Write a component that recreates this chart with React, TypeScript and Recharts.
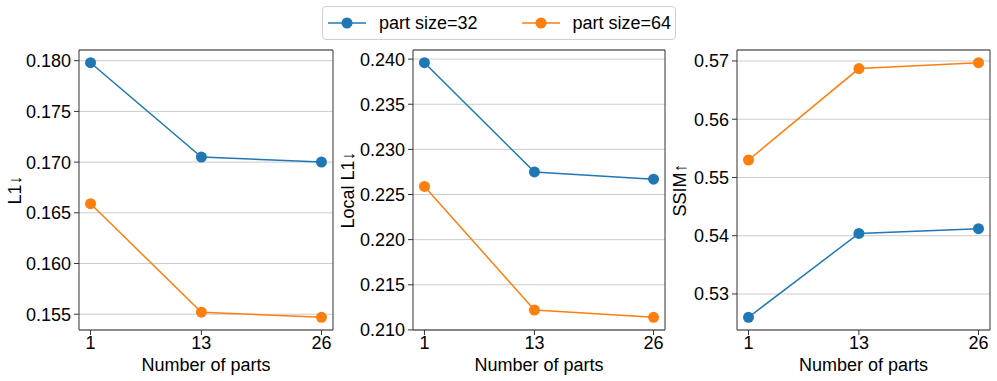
import React from 'react'
import {
  LineChart,
  Line,
  CartesianGrid,
  XAxis,
  YAxis,
  ReferenceArea,
} from 'recharts'

const FONT = '"Liberation Sans", Arial, Helvetica, sans-serif'
const BLUE = '#1f77b4'
const ORANGE = '#ff7f0e'

// Number of parts on the x axis
const parts = [1, 13, 26]
const xTicks = [1, 13, 26]

// L1 (lower is better)
const l1Size32 = [0.1798, 0.1705, 0.17]
const l1Size64 = [0.1659, 0.1552, 0.1547]
const l1Ticks = [0.155, 0.16, 0.165, 0.17, 0.175, 0.18]

// Local L1 (lower is better)
const localL1Size32 = [0.2396, 0.2275, 0.2267]
const localL1Size64 = [0.2259, 0.2122, 0.2114]
const localL1Ticks = [0.21, 0.215, 0.22, 0.225, 0.23, 0.235, 0.24]

// SSIM (higher is better)
const ssimSize32 = [0.526, 0.5404, 0.5412]
const ssimSize64 = [0.553, 0.5687, 0.5697]
const ssimTicks = [0.53, 0.54, 0.55, 0.56, 0.57]

// matplotlib style 5% padding around the data
function padded(values: number[]): [number, number] {
  const lo = Math.min(...values)
  const hi = Math.max(...values)
  const m = (hi - lo) * 0.05
  return [lo - m, hi + m]
}

const xDomain = padded(parts)

interface PanelProps {
  left: number
  width: number
  axisWidth: number
  label: string
  labelX: number
  s32: number[]
  s64: number[]
  ticks: number[]
  digits: number
}

function Panel({ left, width, axisWidth, label, labelX, s32, s64, ticks, digits }: PanelProps) {
  const rows = parts.map((p, i) => ({ parts: p, s32: s32[i], s64: s64[i] }))
  const yDomain = padded([...s32, ...s64])

  return (
    <div style={{ position: 'absolute', left, top: 0 }}>
      <LineChart
        width={width}
        height={381}
        data={rows}
        margin={{ top: 50, right: 7, bottom: 1, left: 0 }}
        style={{ overflow: 'visible' }}
      >
        <CartesianGrid vertical={false} stroke="#cccccc" strokeWidth={1} />
        <XAxis
          dataKey="parts"
          type="number"
          domain={xDomain}
          ticks={xTicks}
          allowDataOverflow
          height={50}
          axisLine={false}
          tickLine={{ stroke: '#333' }}
          tickSize={5}
          tickMargin={1}
          tick={{ fill: '#000', fontSize: 18, fontFamily: FONT }}
          label={{
            value: 'Number of parts',
            position: 'insideBottom',
            offset: 9,
            fill: '#000',
            fontSize: 18,
            fontFamily: FONT,
          }}
        />
        <YAxis
          type="number"
          domain={yDomain}
          ticks={ticks}
          allowDataOverflow
          width={axisWidth}
          axisLine={false}
          tickLine={{ stroke: '#333' }}
          tickSize={5}
          tickMargin={3}
          tickFormatter={(v: number) => v.toFixed(digits)}
          tick={{ fill: '#000', fontSize: 18, fontFamily: FONT }}
          label={(props: any) => {
            const vb = props.viewBox ?? { y: 50, height: 280 }
            const cy = vb.y + vb.height / 2
            return (
              <text
                x={labelX}
                y={cy}
                transform={`rotate(-90 ${labelX} ${cy})`}
                textAnchor="middle"
                dominantBaseline="central"
                fill="#000"
                fontSize={18}
                fontFamily={FONT}
              >
                {label}
              </text>
            )
          }}
        />
        <ReferenceArea
          x1={xDomain[0]}
          x2={xDomain[1]}
          y1={yDomain[0]}
          y2={yDomain[1]}
          fill="none"
          stroke="#333"
          strokeWidth={1}
          fillOpacity={0}
        />
        <Line
          dataKey="s32"
          stroke={BLUE}
          strokeWidth={1.5}
          dot={{ r: 5.5, fill: BLUE, stroke: BLUE, strokeWidth: 0 }}
          activeDot={false}
          isAnimationActive={false}
        />
        <Line
          dataKey="s64"
          stroke={ORANGE}
          strokeWidth={1.5}
          dot={{ r: 5.5, fill: ORANGE, stroke: ORANGE, strokeWidth: 0 }}
          activeDot={false}
          isAnimationActive={false}
        />
      </LineChart>
    </div>
  )
}

function LegendItem({ color, text }: { color: string; text: string }) {
  return (
    <div style={{ display: 'flex', alignItems: 'center' }}>
      <svg width={40} height={14} style={{ marginRight: 13 }}>
        <line x1={2} y1={7} x2={40} y2={7} stroke={color} strokeWidth={1.5} />
        <circle cx={21} cy={7} r={5.5} fill={color} />
      </svg>
      <span>{text}</span>
    </div>
  )
}

export default function App() {
  return (
    <div
      style={{
        position: 'absolute',
        left: 0,
        top: 0,
        width: 997,
        height: 381,
        background: '#fff',
        fontFamily: FONT,
        overflow: 'hidden',
      }}
    >
      <Panel left={0} width={340} axisWidth={79} label="L1↓" labelX={15}
        s32={l1Size32} s64={l1Size64} ticks={l1Ticks} digits={3} />
      <Panel left={336} width={336} axisWidth={77} label="Local L1↓" labelX={12}
        s32={localL1Size32} s64={localL1Size64} ticks={localL1Ticks} digits={3} />
      <Panel left={668} width={329} axisWidth={69} label="SSIM↑" labelX={12}
        s32={ssimSize32} s64={ssimSize64} ticks={ssimTicks} digits={2} />

      {/* legend */}
      <div
        style={{
          position: 'absolute',
          left: 322,
          top: 6,
          width: 354,
          height: 34,
          boxSizing: 'border-box',
          border: '1px solid #d0d0d0',
          borderRadius: 4,
          background: '#fff',
          display: 'flex',
          alignItems: 'center',
          paddingLeft: 3,
          gap: 42,
          fontSize: 18,
          color: '#000',
        }}
      >
        <LegendItem color={BLUE} text="part size=32" />
        <LegendItem color={ORANGE} text="part size=64" />
      </div>
    </div>
  )
}
